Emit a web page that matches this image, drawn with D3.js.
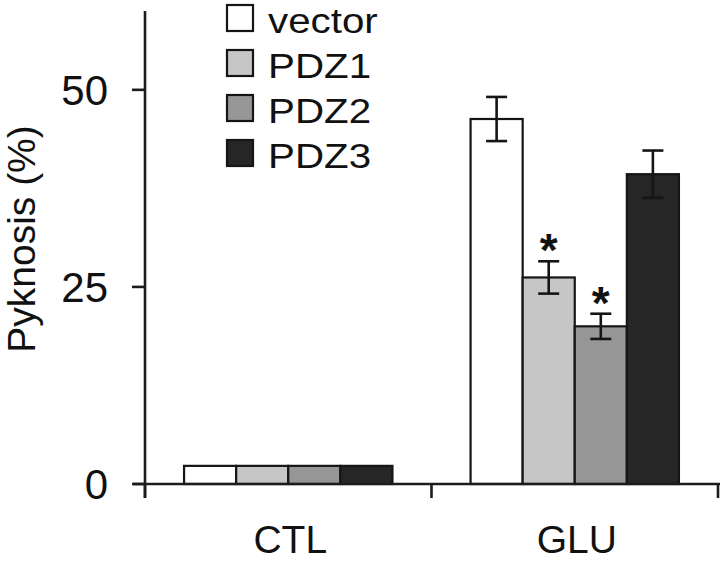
<!DOCTYPE html>
<html>
<head>
<meta charset="utf-8">
<script src="https://cdn.jsdelivr.net/npm/d3@7"></script>
<style>
  html, body { margin: 0; padding: 0; background: #fff; }
  svg { display: block; }
  text { font-family: "Liberation Sans", Arial, Helvetica, sans-serif; fill: #111; }
</style>
</head>
<body>
<script>
// ---- data ----
const categories = ["CTL", "GLU"];
const seriesNames = ["vector", "PDZ1", "PDZ2", "PDZ3"];
const seriesColors = ["#ffffff", "#c6c6c6", "#969696", "#262626"];
const ctlValues = [2.3, 2.3, 2.3, 2.3];
const ctlErrors = [0, 0, 0, 0];
const gluValues = [46.3, 26.2, 20.0, 39.3];
const gluErrors = [2.8, 2.05, 1.6, 3.0];
const gluSignificant = [false, true, true, false];
const yTicks = [0, 25, 50];
const yLabel = "Pyknosis (%)";

const W = 720, H = 562;
const svg = d3.select("body").append("svg").attr("width", W).attr("height", H);

const y = d3.scaleLinear().domain([0, 60]).range([484, 11]);
const x0 = d3.scaleBand().domain(categories).range([145, 718]).paddingInner(0).paddingOuter(0);
const x1 = d3.scaleBand().domain(seriesNames).range([0, x0.bandwidth()]).paddingInner(0).paddingOuter(0.75);
const color = d3.scaleOrdinal().domain(seriesNames).range(seriesColors);

const rows = [
  { cat: "CTL", values: ctlValues, errors: ctlErrors, sig: [false, false, false, false] },
  { cat: "GLU", values: gluValues, errors: gluErrors, sig: gluSignificant }
];

const AX = "#1c1c1c";

// bars
const groups = svg.selectAll("g.grp").data(rows).join("g")
  .attr("class", "grp")
  .attr("transform", d => `translate(${x0(d.cat)},0)`);

groups.selectAll("rect").data(d => d.values.map((v, i) => ({ s: seriesNames[i], v }))).join("rect")
  .attr("x", d => x1(d.s))
  .attr("y", d => y(d.v))
  .attr("width", x1.bandwidth())
  .attr("height", d => y(0) - y(d.v))
  .attr("fill", d => color(d.s))
  .attr("stroke", "#151515")
  .attr("stroke-width", 2.2);

// error bars
const errData = d => d.values.map((v, i) => ({ s: seriesNames[i], v, e: d.errors[i], sig: d.sig[i] })).filter(o => o.e > 0);
const eb = groups.selectAll("g.err").data(errData).join("g").attr("class", "err")
  .attr("transform", d => `translate(${x1(d.s) + x1.bandwidth() / 2},0)`);
eb.append("line").attr("x1", 0).attr("x2", 0).attr("y1", d => y(d.v + d.e)).attr("y2", d => y(d.v - d.e));
eb.append("line").attr("x1", -10.5).attr("x2", 10.5).attr("y1", d => y(d.v + d.e)).attr("y2", d => y(d.v + d.e));
eb.append("line").attr("x1", -10.5).attr("x2", 10.5).attr("y1", d => y(d.v - d.e)).attr("y2", d => y(d.v - d.e));
eb.selectAll("line").attr("stroke", "#151515").attr("stroke-width", 2.6);

// significance stars
eb.filter(d => d.sig).append("text")
  .attr("x", 0)
  .attr("y", d => y(d.v + d.e) - 19 + 24)
  .attr("text-anchor", "middle")
  .attr("font-size", 46)
  .attr("font-weight", "bold")
  .text("*");

// y axis
const yAxis = svg.append("g");
yAxis.append("line").attr("x1", 145).attr("x2", 145).attr("y1", y(60)).attr("y2", 498)
  .attr("stroke", AX).attr("stroke-width", 2.6);
yAxis.selectAll("line.tk").data(yTicks).join("line").attr("class", "tk")
  .attr("x1", 132).attr("x2", 145).attr("y1", d => y(d)).attr("y2", d => y(d))
  .attr("stroke", AX).attr("stroke-width", 2.6);
yAxis.selectAll("text").data(yTicks).join("text")
  .attr("x", 108).attr("y", d => y(d)).attr("dy", "0.36em")
  .attr("text-anchor", "end").attr("font-size", 42)
  .text(d => d);

// x axis
const xAxis = svg.append("g");
xAxis.append("line").attr("x1", 133).attr("x2", 720).attr("y1", y(0)).attr("y2", y(0))
  .attr("stroke", AX).attr("stroke-width", 2.6);
const bounds = [x0(categories[0])].concat(categories.map(c => x0(c) + x0.bandwidth()));
xAxis.selectAll("line.tk").data(bounds).join("line").attr("class", "tk")
  .attr("x1", d => d).attr("x2", d => d).attr("y1", y(0)).attr("y2", 498)
  .attr("stroke", AX).attr("stroke-width", 2.6);
xAxis.selectAll("text").data(categories).join("text")
  .attr("x", d => x0(d) + x0.bandwidth() / 2 + 2)
  .attr("y", 553)
  .attr("text-anchor", "middle").attr("font-size", 39)
  .text(d => d);

// y label
svg.append("text")
  .attr("transform", "translate(35,239) rotate(-90)")
  .attr("text-anchor", "middle").attr("font-size", 39)
  .text(yLabel);

// legend
const lg = svg.append("g");
const legY = d3.scalePoint().domain(seriesNames).range([5, 140]);
const li = lg.selectAll("g").data(seriesNames).join("g")
  .attr("transform", d => `translate(227,${legY(d)})`);
li.append("rect").attr("x", 0).attr("y", 0).attr("width", 26).attr("height", 26)
  .attr("fill", d => color(d)).attr("stroke", "#151515").attr("stroke-width", 2.2);
li.append("text")
  .attr("transform", "translate(41,28) scale(1.12,1)")
  .attr("font-size", 36)
  .text(d => d);
</script>
</body>
</html>
